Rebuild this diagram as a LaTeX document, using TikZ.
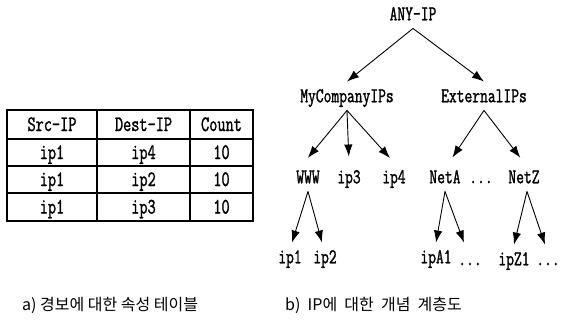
\documentclass[tikz,border=0pt]{standalone}
\usepackage{fontspec}
\usetikzlibrary{arrows.meta}
\newfontfamily\treefont[FakeStretch=0.72,FakeBold=1.3]{Latin Modern Mono}
\newfontfamily\krfont{Noto Sans CJK KR}

\begin{document}
\begin{tikzpicture}[x=1pt,y=-1pt,
  lbl/.style={font=\treefont\fontsize{21}{21}\selectfont, inner xsep=0pt,
    inner ysep=8pt, text height=12.5pt, text depth=0pt},
  cell/.style={font=\treefont\fontsize{22}{22}\selectfont, inner sep=0pt,
    text height=13pt, text depth=0pt},
  captxt/.style={font=\krfont\fontsize{16}{16}\selectfont, anchor=west, inner sep=0pt},
  arr/.style={-{Latex[length=12pt,width=8.5pt]}, line width=0.9pt},
  tablerule/.style={line width=1.1pt}]
\useasboundingbox (0,0) rectangle (563,325);

% attribute table
\draw[tablerule] (7,110) rectangle (253,221);
\foreach \yy in {139,166,193} \draw[tablerule] (7,\yy) -- (253,\yy);
\foreach \xx in {97,190} \draw[tablerule] (\xx,110) -- (\xx,221);
\node[cell] (hsrc) at (52,124.5) {Src-IP};
\node[cell] (hdst) at (143.5,124.5) {Dest-IP};
\node[cell] (hcnt) at (221.5,124.5) {Count};
\node[cell] (s1) at (52,152.5) {ip1};
\node[cell] (d1) at (143.5,152.5) {ip4};
\node[cell] (c1) at (221.5,152.5) {10};
\node[cell] (s2) at (52,179.5) {ip1};
\node[cell] (d2) at (143.5,179.5) {ip2};
\node[cell] (c2) at (221.5,179.5) {10};
\node[cell] (s3) at (52,207) {ip1};
\node[cell] (d3) at (143.5,207) {ip3};
\node[cell] (c3) at (221.5,207) {10};

% concept hierarchy of IPs
\node[lbl] (any) at (413,14) {ANY-IP};
\node[lbl] (my)  at (347,96) {MyCompanyIPs};
\node[lbl] (ext) at (484,96) {ExternalIPs};
\node[lbl] (www) at (308,177) {WWW};
\node[lbl] (ip3) at (349,177) {ip3};
\node[lbl] (ip4) at (394,177) {ip4};
\node[lbl] (neta) at (445,177) {NetA};
\node[lbl] (dotsn) at (481,177) {...};
\node[lbl] (netz) at (524,177) {NetZ};
\node[lbl] (ipa) at (290,257) {ip1};
\node[lbl] (ipb) at (325,257) {ip2};
\node[lbl] (ipa1) at (436,257) {ipA1};
\node[lbl] (dotsa) at (470,259) {...};
\node[lbl] (ipz1) at (514,259) {ipZ1};
\node[lbl] (dotsz) at (548,259) {...};

\draw[arr] (any.south) -- (my.north);
\draw[arr] (any.south) -- (ext.north);
\draw[arr, shorten >=6pt] (my.south) -- ([xshift=-4pt]www.north);
\draw[arr, shorten >=6pt] (my.south) -- (ip3.north);
\draw[arr, shorten >=6pt] (my.south) -- (ip4.north);
\draw[arr, shorten >=6pt] (ext.south) -- ([xshift=4pt]neta.north);
\draw[arr, shorten >=6pt] (ext.south) -- (netz.north);
\draw[arr] (www.south) -- ([xshift=2pt]ipa.north);
\draw[arr] (www.south) -- ([xshift=-3pt]ipb.north);
\draw[arr] (neta.south) -- (ipa1.north);
\draw[arr] (neta.south) -- ([xshift=-6pt,yshift=2pt]dotsa.north);
\draw[arr] ([xshift=3pt]netz.south) -- (ipz1.north);
\draw[arr] ([xshift=3pt]netz.south) -- ([xshift=-3pt]dotsz.north);

% captions
\node[captxt] (capa) at (22,305) {a)\ 경보에\ 대한\ 속성\ 테이블};
\node[captxt] (capb) at (285,305) {b)\hspace{0.45em}IP에\hspace{0.45em}대한\hspace{0.45em}개념\hspace{0.45em}계층도};
\end{tikzpicture}
\end{document}
